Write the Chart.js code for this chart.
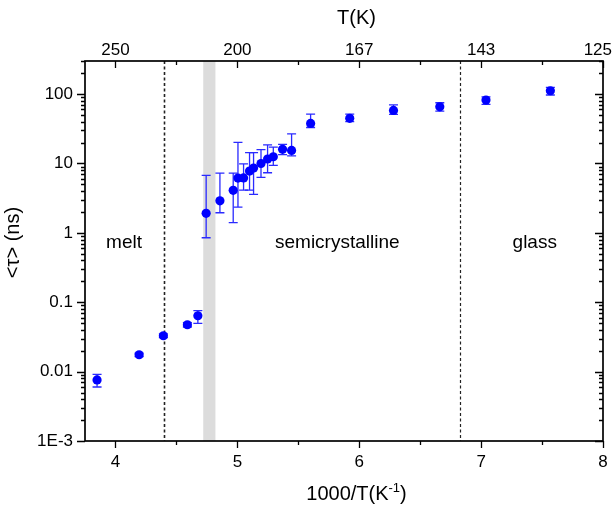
<!DOCTYPE html>
<html>
<head>
<meta charset="utf-8">
<script src="https://cdn.jsdelivr.net/npm/chart.js@4.4.1/dist/chart.umd.min.js"></script>
<style>
	html, body { margin: 0; padding: 0; background: #fff; }
	canvas { display: block; }
</style>
</head>
<body>
<canvas id="chart-tau" width="613" height="506"></canvas>
<script>
// Data
const invT = [3.849, 4.194, 4.393, 4.590, 4.676, 4.744, 4.857, 4.966, 5.005, 5.051, 5.100, 5.133, 5.194, 5.248, 5.295, 5.371, 5.445, 5.601, 5.922, 6.281, 6.661, 7.040, 7.568];
const tau = [0.0076, 0.0175, 0.0329, 0.0474, 0.0639, 1.91, 2.90, 4.10, 6.16, 6.2, 7.77, 8.59, 10.0, 11.6, 12.5, 16.0, 15.4, 37.8, 44.7, 58.2, 65.6, 82, 111.7];
const tauLow = [0.0060, 0.0165, 0.031, 0.044, 0.0497, 0.85, 1.95, 1.40, 2.35, 4.14, 4.14, 3.59, 6.3, 7.35, 9.4, 13.4, 12.9, 33, 40, 51, 57, 71, 97];
const tauHigh = [0.0091, 0.0185, 0.035, 0.051, 0.0755, 6.74, 7.27, 7.27, 20.1, 9.9, 14.3, 14.3, 15.8, 18.6, 17.2, 18.8, 26.8, 51.5, 51.5, 70, 75, 91.5, 125];

const xTickValues = [4, 5, 6, 7, 8];
const xTickLabels = ["4", "5", "6", "7", "8"];
const topTickLabels = ["250", "200", "167", "143", "125"];
const yTickValues = [0.001, 0.01, 0.1, 1, 10, 100];
const yTickLabels = ["1E-3", "0.01", "0.1", "1", "10", "100"];

const regionNames = ["melt", "semicrystalline", "glass"];
const regionX = [4.07, 5.82, 7.44];
const regionY = [0.6, 0.6, 0.6];
const transitionLines = [4.40, 6.83];
const crystallizationBand = [4.72, 4.82];

const FONT = "'Liberation Sans', Arial, sans-serif";
const BLUE = "#0000ff";

Chart.defaults.font.family = FONT;
Chart.defaults.color = "#000";

// tick helpers
const xTicks = () => {
	const ticks = [];
	for (let v = 4; v <= 8; v += 0.5) ticks.push({ value: v, major: Number.isInteger(v) });
	return ticks;
};
const yTicks = () => {
	const ticks = [];
	for (let e = -3; e <= 2; e++) {
		for (let m = 1; m <= 9; m++) {
			const v = m * Math.pow(10, e);
			if (v <= 300) ticks.push({ value: v, major: m === 1 });
		}
	}
	return ticks;
};
const findIndex = (list, value, log) =>
	list.findIndex((v) => (log ? Math.abs(Math.log10(v) - Math.log10(value)) < 1e-6 : Math.abs(v - value) < 1e-6));

// fixed axis box sizes, no label overflow margins
const fixSize = (prop, size) => (scale) => {
	scale[prop] = size;
	scale.paddingLeft = 0;
	scale.paddingRight = 0;
	scale.paddingTop = 0;
	scale.paddingBottom = 0;
};

// Custom drawing: band, dashed lines, error bars, frame, ticks, titles
const decorations = {
	id: "decorations",
	beforeDatasetsDraw(chart) {
		const { ctx, chartArea: area, scales } = chart;
		const x = scales.x;
		const y = scales.y;
		ctx.save();

		// crystallization band
		ctx.fillStyle = "#dcdcdc";
		const b0 = x.getPixelForValue(crystallizationBand[0]);
		const b1 = x.getPixelForValue(crystallizationBand[1]);
		ctx.fillRect(b0, area.top, b1 - b0, area.bottom - area.top);

		// dashed transition lines
		ctx.strokeStyle = "#222";
		ctx.setLineDash([3, 2.5]);
		transitionLines.forEach((v, i) => {
			ctx.lineWidth = i === 0 ? 1.6 : 1.2;
			const px = Math.round(x.getPixelForValue(v)) + 0.5;
			ctx.beginPath();
			ctx.moveTo(px, area.top);
			ctx.lineTo(px, area.bottom);
			ctx.stroke();
		});
		ctx.setLineDash([]);

		// region labels
		ctx.fillStyle = "#000";
		ctx.font = `19px ${FONT}`;
		ctx.textAlign = "center";
		ctx.textBaseline = "alphabetic";
		regionNames.forEach((name, i) => {
			ctx.fillText(name, x.getPixelForValue(regionX[i]), y.getPixelForValue(regionY[i]));
		});

		// error bars
		ctx.strokeStyle = "#2a2aff";
		ctx.lineWidth = 1.3;
		invT.forEach((v, i) => {
			const px = x.getPixelForValue(v);
			const top = y.getPixelForValue(tauHigh[i]);
			const bot = y.getPixelForValue(tauLow[i]);
			ctx.beginPath();
			ctx.moveTo(px, top);
			ctx.lineTo(px, bot);
			ctx.moveTo(px - 4.5, top);
			ctx.lineTo(px + 4.5, top);
			ctx.moveTo(px - 4.5, bot);
			ctx.lineTo(px + 4.5, bot);
			ctx.stroke();
		});
		ctx.restore();
	},
	afterDraw(chart) {
		const { ctx, chartArea: area, scales } = chart;
		ctx.save();
		ctx.strokeStyle = "#000";

		// ticks
		ctx.lineWidth = 1.3;
		ctx.beginPath();
		scales.x.ticks.forEach((t) => {
			const p = Math.round(scales.x.getPixelForValue(t.value)) + 0.5;
			const len = t.major ? 7 : 4;
			ctx.moveTo(p, area.bottom);
			ctx.lineTo(p, area.bottom + len);
			ctx.moveTo(p, area.top);
			ctx.lineTo(p, area.top + len);
		});
		scales.y.ticks.forEach((t) => {
			const p = Math.round(scales.y.getPixelForValue(t.value)) + 0.5;
			const len = t.major ? 8 : 4;
			ctx.moveTo(area.left - len, p);
			ctx.lineTo(area.left, p);
			ctx.moveTo(area.right - len, p);
			ctx.lineTo(area.right, p);
		});
		ctx.stroke();

		// frame
		ctx.lineWidth = 1.7;
		ctx.strokeRect(area.left, area.top, area.right - area.left, area.bottom - area.top);

		// top tick labels (temperature), last one kept inside the canvas
		ctx.fillStyle = "#000";
		ctx.textBaseline = "alphabetic";
		ctx.textAlign = "center";
		ctx.font = `17px ${FONT}`;
		xTickValues.forEach((v, i) => {
			const w = ctx.measureText(topTickLabels[i]).width;
			const px = Math.min(scales.x2.getPixelForValue(v), chart.width - 1 - w / 2);
			ctx.fillText(topTickLabels[i], px, 55);
		});

		// axis titles
		ctx.font = `20px ${FONT}`;
		ctx.fillText("T(K)", 356.5, 24);

		// bottom title with superscript
		const main = "1000/T(K";
		const sup = "-1";
		const close = ")";
		const wMain = ctx.measureText(main).width;
		const wClose = ctx.measureText(close).width;
		ctx.font = `13px ${FONT}`;
		const wSup = ctx.measureText(sup).width;
		let sx = 356.5 - (wMain + wSup + wClose) / 2;
		ctx.textAlign = "left";
		ctx.font = `20px ${FONT}`;
		ctx.fillText(main, sx, 500);
		sx += wMain;
		ctx.font = `13px ${FONT}`;
		ctx.fillText(sup, sx, 492);
		sx += wSup;
		ctx.font = `20px ${FONT}`;
		ctx.fillText(close, sx, 500);

		// y title
		ctx.translate(19, 242.5);
		ctx.rotate(-Math.PI / 2);
		ctx.textAlign = "center";
		ctx.fillText("<τ> (ns)", 0, 0);
		ctx.restore();
	},
};

const CHART_DATA = {
	datasets: [
		{
			data: invT.map((v, i) => ({ x: v, y: tau[i] })),
			backgroundColor: BLUE,
			borderWidth: 0,
			pointRadius: 4.6,
			pointHoverRadius: 4.6,
		},
	],
};

const CHART_CONFIG = {
	type: "scatter",
	data: CHART_DATA,
	options: {
		responsive: false,
		animation: false,
		devicePixelRatio: 1,
		layout: { padding: 0 },
		plugins: {
			legend: { display: false },
			tooltip: { enabled: false },
		},
		scales: {
			x: {
				type: "linear",
				position: "bottom",
				min: 3.75,
				max: 8,
				afterBuildTicks: (scale) => (scale.ticks = xTicks()),
				afterFit: fixSize("height", 65),
				grid: { display: false, drawTicks: false },
				border: { display: false },
				ticks: {
					autoSkip: false,
					maxRotation: 0,
					padding: 11,
					font: { size: 17 },
					callback: (value) => {
						const i = findIndex(xTickValues, value, false);
						return i >= 0 ? xTickLabels[i] : "";
					},
				},
			},
			x2: {
				type: "linear",
				position: "top",
				min: 3.75,
				max: 8,
				afterFit: fixSize("height", 61),
				grid: { display: false, drawTicks: false },
				border: { display: false },
				ticks: { display: false },
			},
			y: {
				type: "logarithmic",
				position: "left",
				min: 0.001,
				max: 300,
				afterBuildTicks: (scale) => (scale.ticks = yTicks()),
				afterFit: fixSize("width", 85),
				grid: { display: false, drawTicks: false },
				border: { display: false },
				ticks: {
					autoSkip: false,
					padding: 12,
					font: { size: 17 },
					callback: (value) => {
						const i = findIndex(yTickValues, value, true);
						return i >= 0 ? yTickLabels[i] : "";
					},
				},
			},
			y2: {
				type: "logarithmic",
				position: "right",
				min: 0.001,
				max: 300,
				afterFit: fixSize("width", 10),
				grid: { display: false, drawTicks: false },
				border: { display: false },
				ticks: { display: false },
			},
		},
	},
	plugins: [decorations],
};

new Chart(document.getElementById("chart-tau"), CHART_CONFIG);
</script>
</body>
</html>
